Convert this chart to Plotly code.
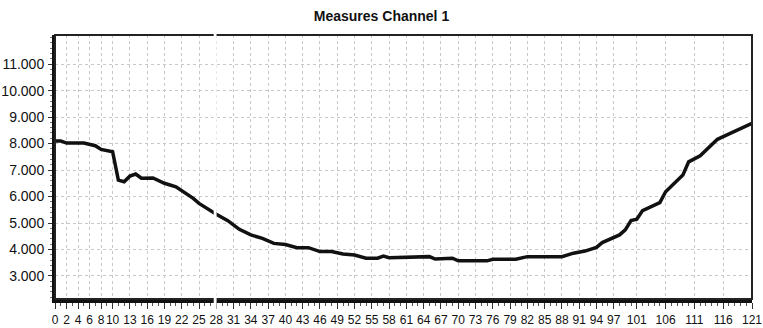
import plotly.graph_objects as go

measure_index = [0, 1, 2, 5, 7, 8, 10, 11, 12, 13, 14, 15, 17, 19, 21, 24, 25, 27, 28, 30,
                 32, 34, 36, 38, 40, 42, 44, 46, 48, 50, 52, 54, 56, 57, 58, 65, 66, 69, 70,
                 75, 76, 80, 82, 88, 90, 92, 94, 95, 98, 99, 100, 101, 102, 105, 106, 109,
                 110, 112, 115, 116, 119, 121]
channel1_values = [8100, 8100, 8020, 8020, 7920, 7780, 7690, 6620, 6560, 6770, 6850, 6690,
                   6700, 6500, 6370, 5930, 5740, 5450, 5330, 5090, 4760, 4550, 4420, 4230,
                   4190, 4070, 4070, 3920, 3920, 3830, 3790, 3670, 3670, 3750, 3690, 3730,
                   3640, 3670, 3570, 3570, 3630, 3630, 3730, 3730, 3860, 3940, 4080, 4260,
                   4550, 4740, 5090, 5140, 5470, 5770, 6180, 6810, 7310, 7540, 8160, 8260,
                   8570, 8760]
x_tick_values = [0, 2, 4, 6, 8, 10, 13, 16, 19, 22, 25, 28, 31, 34, 37, 40, 43, 46, 49, 52,
                 55, 58, 61, 64, 67, 70, 73, 76, 79, 82, 85, 88, 91, 94, 97, 101, 106, 111,
                 116, 121]
y_tick_values = [3000, 4000, 5000, 6000, 7000, 8000, 9000, 10000, 11000]

FONT = "Liberation Sans, Arial, sans-serif"

fig = go.Figure()
fig.add_trace(go.Scatter(
    x=measure_index, y=channel1_values, mode="lines",
    line=dict(color="#111111", width=3.5),
    showlegend=False, hoverinfo="x+y",
))

fig.update_layout(
    width=763, height=328,
    margin=dict(l=55, r=11, t=35, b=29, autoexpand=False),
    paper_bgcolor="white", plot_bgcolor="white",
    separators=",.",
    font=dict(family=FONT, size=13, color="#111111"),
    title=dict(text="<b>Measures Channel 1</b>", x=0.5, xanchor="center",
               y=1 - 16 / 328, yanchor="middle",
               font=dict(family=FONT, size=14, color="#111111")),
    xaxis=dict(
        range=[0, 121], tickmode="array", tickvals=x_tick_values,
        tickangle=0, automargin=False,
        showgrid=True, gridcolor="#c8c8c8", griddash="dot", gridwidth=1,
        showline=True, linecolor="#111111", linewidth=4,
        ticks="outside", ticklen=6, tickcolor="#333333", tickwidth=1,
        ticklabelstandoff=1,
        minor=dict(ticks="outside", ticklen=3, dtick=1, tickcolor="#555555", showgrid=False),
        zeroline=False,
        tickfont=dict(family=FONT, size=12, color="#111111"),
    ),
    yaxis=dict(
        range=[2130, 12100], tickmode="array", tickvals=y_tick_values,
        tickformat=",d", automargin=False,
        showgrid=True, gridcolor="#c8c8c8", griddash="dot", gridwidth=1,
        showline=True, linecolor="#111111", linewidth=3,
        ticks="outside", ticklen=4, tickcolor="#333333", tickwidth=1,
        ticklabelstandoff=1,
        minor=dict(ticks="outside", ticklen=2, dtick=200, tickcolor="#777777", showgrid=False),
        zeroline=False,
        tickfont=dict(family=FONT, size=14, color="#111111"),
    ),
    shapes=[
        dict(type="rect", xref="paper", yref="paper", x0=0, x1=1, y0=0, y1=1,
             line=dict(color="#222222", width=2), layer="above"),
        dict(type="rect", xref="x", yref="paper", x0=27.55, x1=28.05, y0=-0.04, y1=1.02,
             line=dict(width=0), fillcolor="white", layer="above"),
    ],
)

fig.write_html("out.html")
